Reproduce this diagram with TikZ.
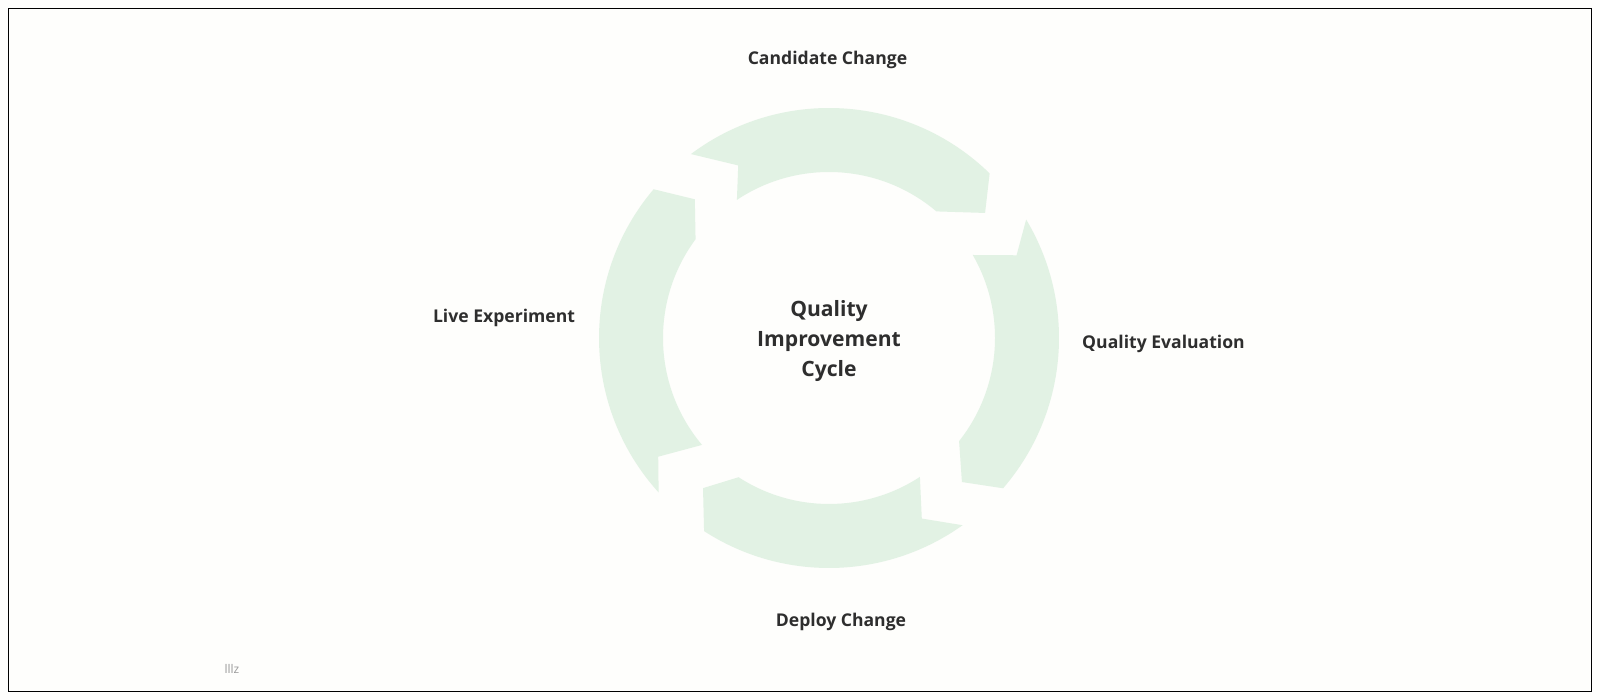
\documentclass[tikz,border=0pt]{standalone}
\usepackage{fontspec}
\setmainfont{Open Sans}
\definecolor{ringgreen}{HTML}{E2F2E4}
\definecolor{txt}{HTML}{2E2E2E}
\definecolor{bgc}{HTML}{FEFEFC}
\tikzset{
  ring/.style={fill=ringgreen, draw=none},
  lbl/.style={text=txt, font=\fontsize{5.0}{6}\selectfont\bfseries, inner sep=0pt, anchor=base},
  title/.style={text=txt, font=\fontsize{6.0}{8.5}\selectfont\bfseries, align=center, inner sep=0pt},
  frame/.style={draw=black, line width=0.45pt},
}
\newcommand{\ringseg}[9]{%
  % #1 tail outer, #2 head outer, #3 tip angle, #4 tip radius, #5 head inner, #6 tail inner, #7 notch angle, #8 notch radius, #9 name
  \fill[ring] (#1:230) arc[start angle=#1, end angle=#2, radius=230]
     -- (#3:#4) -- (#5:166) arc[start angle=#5, end angle=#6, radius=166]
     -- (#7:#8) -- cycle;
}
\begin{document}
\begin{tikzpicture}[x=0.01cm, y=0.01cm]
\useasboundingbox (0,0) rectangle (1600,700);
\fill[bgc] (0,0) rectangle (1600,700);
\draw[frame] (8.5,8.5) rectangle (1591.5,691.5);

\begin{scope}[shift={(829,362)}]
  \ringseg{126.9}{45.7}{38.7}{200}{49.7}{123.7}{117.75}{195}{top}
  \ringseg{31.0}{-40.8}{-47.3}{196}{-38.4}{30.0}{23.8}{205}{right}
  \ringseg{-54.5}{-122.9}{-130}{196}{-123.0}{-56.8}{-62.8}{203}{bottom}
  \ringseg{222.2}{139.7}{134.05}{193}{143.5}{220.1}{214.8}{208}{left}
\end{scope}

\node[title] (center) at (829,359) {Quality\\Improvement\\Cycle};
\node[lbl] (cand) at (827.5,635) {Candidate Change};
\node[lbl] (qeval) at (1163.5,351) {Quality Evaluation};
\node[lbl] (deploy) at (841,73) {Deploy Change};
\node[lbl] (live) at (504,377) {Live Experiment};
\node[text=black!40, font=\fontsize{3.4}{4}\selectfont, inner sep=0pt, anchor=base] (mark) at (232,27) {lllz};
\end{tikzpicture}
\end{document}
